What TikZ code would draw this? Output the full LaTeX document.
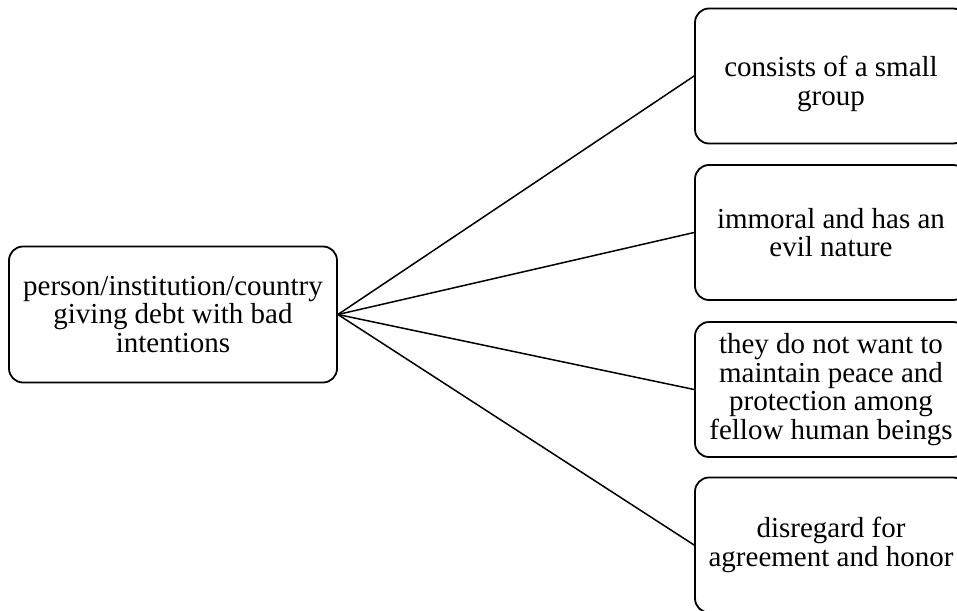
\documentclass[tikz,border=0pt]{standalone}
\usepackage{fontspec}
\setmainfont{Liberation Serif}
\begin{document}
\begin{tikzpicture}[x=1pt,y=-1pt,
  box/.style={draw=black, line width=1.8pt, rounded corners=14pt, align=center,
    font=\fontsize{29}{28.6}\selectfont, inner sep=0pt},
  leftbox/.style={box, minimum width=328pt, minimum height=136pt},
  rightbox/.style={box, minimum width=272pt, minimum height=135pt},
  txt/.style={align=center, font=\fontsize{29}{28.6}\selectfont, inner sep=0pt},
  link/.style={draw=black, line width=1.5pt}]
\useasboundingbox (0,0) rectangle (957,610);
\node[leftbox] (src) at (173,314.5) {person/institution/country\\giving debt with bad\\intentions};
\node[rightbox] (r1) at (831,76) {};
\node[txt] (r1t) at ([yshift=-8pt]r1.center) {consists of a small\\group};
\node[rightbox] (r2) at (831,232.5) {immoral and has an\\evil nature};
\node[rightbox] (r3) at (831,389.5) {they do not want to\\maintain peace and\\protection among\\fellow human beings};
\node[rightbox] (r4) at (831,545) {disregard for\\agreement and honor};
\foreach \n in {r1,r2,r3,r4} \draw[link] (src.east) -- (\n.west);
\end{tikzpicture}
\end{document}
